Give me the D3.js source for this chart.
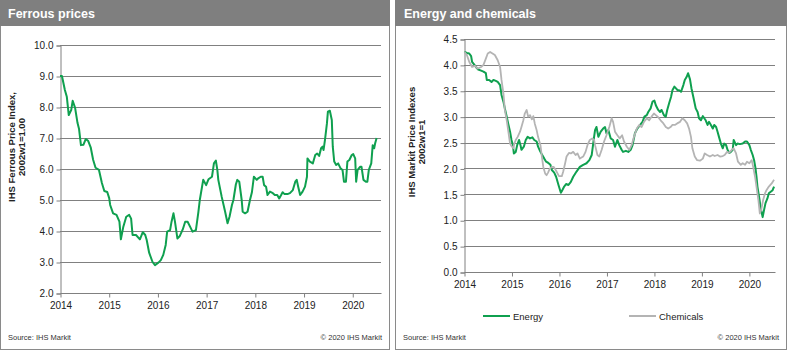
<!DOCTYPE html>
<html><head><meta charset="utf-8">
<script src="https://cdn.jsdelivr.net/npm/d3@7"></script>
<style>body{margin:0;background:#fff}svg{display:block;font-family:"Liberation Sans",Arial,sans-serif}</style>
</head><body><svg id="c" width="790" height="356"></svg>
<script>
// ---- data ----
const yearTicks = [2014, 2015, 2016, 2017, 2018, 2019, 2020];
const ferrousTicks = [2, 3, 4, 5, 6, 7, 8, 9, 10];
const energyTicks = [0, 0.5, 1, 1.5, 2, 2.5, 3, 3.5, 4, 4.5];

const ferrousDates = [2014.00,2014.04,2014.10,2014.14,2014.18,2014.23,2014.26,2014.31,2014.36,2014.39,2014.43,2014.48,2014.53,2014.58,2014.63,2014.68,2014.73,2014.80,2014.86,2014.91,2014.97,2015.01,2015.03,2015.09,2015.16,2015.22,2015.25,2015.30,2015.36,2015.42,2015.46,2015.49,2015.56,2015.64,2015.70,2015.75,2015.78,2015.83,2015.90,2015.95,2016.02,2016.07,2016.12,2016.17,2016.20,2016.26,2016.29,2016.33,2016.36,2016.41,2016.46,2016.52,2016.57,2016.62,2016.67,2016.72,2016.79,2016.84,2016.87,2016.94,2017.00,2017.05,2017.12,2017.16,2017.20,2017.23,2017.25,2017.32,2017.39,2017.44,2017.48,2017.53,2017.56,2017.61,2017.64,2017.68,2017.73,2017.75,2017.80,2017.85,2017.90,2017.94,2017.98,2018.04,2018.07,2018.12,2018.16,2018.19,2018.23,2018.26,2018.31,2018.37,2018.41,2018.46,2018.50,2018.54,2018.57,2018.61,2018.67,2018.72,2018.78,2018.83,2018.86,2018.89,2018.93,2018.98,2019.03,2019.07,2019.08,2019.13,2019.19,2019.24,2019.28,2019.32,2019.36,2019.39,2019.41,2019.44,2019.48,2019.50,2019.54,2019.58,2019.60,2019.63,2019.67,2019.71,2019.76,2019.80,2019.83,2019.87,2019.90,2019.94,2019.99,2020.02,2020.06,2020.08,2020.11,2020.16,2020.19,2020.23,2020.28,2020.31,2020.34,2020.39,2020.42,2020.45,2020.47,2020.50];
const ferrousValues = [9.0,9.0,8.55,8.33,7.74,7.9,8.2,7.97,7.48,7.3,6.77,6.78,6.97,6.9,6.7,6.3,6.04,5.97,5.55,5.29,5.26,5.06,4.84,4.57,4.52,4.3,3.73,4.14,4.46,4.52,4.4,3.87,3.87,3.73,3.96,3.87,3.71,3.3,3.0,2.9,2.98,3.06,3.23,3.55,3.98,4.03,4.3,4.57,4.3,3.76,3.84,4.05,4.3,4.3,4.14,3.98,4.03,4.6,5.0,5.65,5.48,5.67,5.75,6.18,6.27,5.97,5.65,5.1,4.62,4.25,4.46,4.84,5.0,5.5,5.65,5.59,5.0,4.62,4.57,4.62,5.0,5.25,5.75,5.65,5.7,5.75,5.75,5.48,5.43,5.16,5.27,5.22,5.16,5.16,5.05,5.16,5.25,5.19,5.19,5.22,5.32,5.59,5.65,5.43,5.16,5.27,5.43,5.75,6.34,6.24,6.18,6.45,6.5,6.42,6.67,6.72,6.61,6.94,7.47,7.85,7.88,7.58,6.72,6.24,6.13,6.18,6.02,5.97,5.59,5.59,6.24,6.29,6.45,6.48,6.34,5.59,5.97,6.07,6.07,5.65,5.59,5.59,5.97,6.18,6.77,6.67,6.83,7.0];

const energyDates = [2014.01,2014.06,2014.11,2014.15,2014.17,2014.22,2014.25,2014.30,2014.36,2014.41,2014.46,2014.48,2014.53,2014.58,2014.62,2014.67,2014.71,2014.76,2014.79,2014.83,2014.86,2014.90,2014.93,2014.97,2015.00,2015.03,2015.05,2015.09,2015.12,2015.16,2015.19,2015.21,2015.26,2015.30,2015.34,2015.39,2015.44,2015.48,2015.53,2015.56,2015.61,2015.66,2015.69,2015.73,2015.77,2015.82,2015.85,2015.90,2015.94,2015.99,2016.04,2016.07,2016.11,2016.15,2016.20,2016.25,2016.30,2016.37,2016.44,2016.51,2016.58,2016.64,2016.69,2016.74,2016.76,2016.79,2016.83,2016.88,2016.93,2016.97,2017.00,2017.04,2017.09,2017.14,2017.18,2017.23,2017.27,2017.32,2017.35,2017.41,2017.46,2017.51,2017.55,2017.60,2017.65,2017.71,2017.76,2017.80,2017.85,2017.88,2017.93,2017.97,2018.01,2018.04,2018.09,2018.13,2018.16,2018.21,2018.25,2018.28,2018.32,2018.36,2018.39,2018.43,2018.46,2018.50,2018.53,2018.57,2018.62,2018.65,2018.69,2018.72,2018.76,2018.79,2018.83,2018.88,2018.92,2018.95,2018.99,2019.03,2019.06,2019.09,2019.13,2019.16,2019.20,2019.24,2019.27,2019.31,2019.34,2019.37,2019.41,2019.45,2019.48,2019.52,2019.55,2019.59,2019.62,2019.66,2019.68,2019.73,2019.76,2019.81,2019.87,2019.92,2019.96,2020.01,2020.04,2020.08,2020.11,2020.14,2020.16,2020.18,2020.22,2020.25,2020.29,2020.32,2020.35,2020.39,2020.42,2020.46,2020.50,2020.53];
const energyValues = [4.25,4.23,4.22,4.17,4.06,4.0,3.96,3.91,3.89,3.87,3.84,3.71,3.71,3.67,3.71,3.69,3.67,3.61,3.42,3.29,3.16,3.0,2.87,2.71,2.55,2.45,2.29,2.32,2.45,2.55,2.45,2.36,2.42,2.55,2.61,2.58,2.6,2.55,2.52,2.42,2.32,2.24,2.19,2.13,2.11,2.07,1.97,1.92,1.84,1.68,1.53,1.58,1.65,1.7,1.68,1.74,1.84,1.94,2.03,2.07,2.1,2.16,2.26,2.61,2.74,2.8,2.61,2.71,2.77,2.8,2.68,2.74,2.58,2.55,2.42,2.55,2.45,2.36,2.32,2.34,2.32,2.36,2.45,2.68,2.77,2.84,2.9,3.0,3.03,3.09,3.16,3.29,3.31,3.22,3.13,3.09,3.13,3.03,3.0,3.13,3.26,3.38,3.51,3.58,3.55,3.51,3.51,3.48,3.61,3.71,3.77,3.84,3.72,3.55,3.38,3.16,3.09,2.97,2.93,3.01,2.97,2.93,2.84,2.9,2.84,2.77,2.84,2.8,2.71,2.61,2.48,2.39,2.48,2.45,2.36,2.3,2.32,2.36,2.55,2.45,2.48,2.47,2.48,2.52,2.52,2.45,2.36,2.26,2.16,2.0,1.84,1.65,1.42,1.23,1.06,1.2,1.33,1.42,1.52,1.55,1.58,1.65];

const chemDates = [2014.01,2014.06,2014.11,2014.17,2014.23,2014.29,2014.36,2014.41,2014.46,2014.50,2014.55,2014.60,2014.65,2014.71,2014.76,2014.79,2014.83,2014.86,2014.90,2014.93,2014.97,2015.00,2015.04,2015.06,2015.09,2015.13,2015.18,2015.21,2015.25,2015.28,2015.32,2015.35,2015.39,2015.43,2015.46,2015.49,2015.53,2015.56,2015.61,2015.64,2015.67,2015.71,2015.74,2015.77,2015.81,2015.85,2015.89,2015.95,2016.00,2016.06,2016.09,2016.13,2016.16,2016.21,2016.25,2016.30,2016.35,2016.39,2016.44,2016.51,2016.56,2016.60,2016.65,2016.70,2016.74,2016.76,2016.81,2016.85,2016.90,2016.95,2017.00,2017.06,2017.11,2017.14,2017.18,2017.23,2017.28,2017.33,2017.37,2017.43,2017.48,2017.53,2017.58,2017.64,2017.69,2017.74,2017.79,2017.85,2017.90,2017.95,2018.00,2018.04,2018.09,2018.14,2018.20,2018.25,2018.30,2018.35,2018.39,2018.44,2018.49,2018.55,2018.60,2018.65,2018.70,2018.74,2018.78,2018.81,2018.86,2018.91,2018.97,2019.03,2019.07,2019.12,2019.18,2019.24,2019.28,2019.34,2019.39,2019.45,2019.49,2019.54,2019.58,2019.64,2019.68,2019.73,2019.77,2019.83,2019.87,2019.92,2019.96,2020.01,2020.06,2020.09,2020.13,2020.16,2020.20,2020.23,2020.26,2020.30,2020.34,2020.37,2020.42,2020.48,2020.53];
const chemValues = [4.25,4.19,4.06,3.96,3.98,3.93,3.96,4.0,4.12,4.22,4.25,4.22,4.19,4.09,3.96,3.71,3.45,3.13,2.93,2.74,2.48,2.43,2.39,2.48,2.55,2.61,2.71,2.8,2.93,3.06,3.13,3.0,3.03,2.95,3.01,2.87,2.74,2.61,2.45,2.23,2.03,1.9,1.87,1.92,2.0,2.03,2.03,1.94,1.85,1.85,1.94,2.1,2.23,2.3,2.29,2.32,2.26,2.29,2.19,2.23,2.32,2.45,2.55,2.58,2.55,2.45,2.26,2.23,2.36,2.52,2.64,2.8,2.97,2.9,2.71,2.64,2.58,2.64,2.52,2.42,2.36,2.45,2.61,2.77,2.84,2.8,2.9,2.97,2.93,3.0,3.06,3.03,2.99,2.93,2.87,2.8,2.77,2.8,2.84,2.84,2.87,2.9,2.97,2.93,2.87,2.77,2.61,2.39,2.23,2.16,2.15,2.19,2.29,2.26,2.23,2.26,2.24,2.26,2.23,2.24,2.26,2.32,2.3,2.36,2.39,2.29,2.13,2.07,2.1,2.07,2.13,2.1,2.16,2.03,1.84,1.65,1.39,1.13,1.2,1.39,1.52,1.58,1.65,1.71,1.78];

// ---- drawing ----
const svg = d3.select("#c");
const GREEN = "#0fa04f", GREY = "#b4b4b4", FRAME = "#8a8a8a";

function panel(o) {
  const g = svg.append("g");
  g.append("rect").attr("x", o.x0 + 0.5).attr("y", 0.5).attr("width", o.w - 1).attr("height", 349)
    .attr("fill", "#fff").attr("stroke", FRAME);
  g.append("rect").attr("x", o.x0).attr("y", 0).attr("width", o.w).attr("height", 26).attr("fill", "#7f7f7f");
  g.append("text").attr("x", o.x0 + o.tx).attr("y", 18).attr("fill", "#fff")
    .attr("font-size", 12.5).attr("font-weight", "bold").text(o.title);

  const x = d3.scaleLinear().domain([2014, o.xEnd]).range([o.left, o.right]);
  const y = d3.scaleLinear().domain(o.yDomain).range([o.bottom, o.top]);

  // gridlines
  g.append("g").selectAll("line").data(o.yTicks.slice(1)).join("line")
    .attr("x1", o.left).attr("x2", o.right)
    .attr("y1", d => Math.round(y(d)) + 0.5).attr("y2", d => Math.round(y(d)) + 0.5)
    .attr("stroke", "#808080").attr("stroke-width", 1);

  const ya = g.append("g").attr("transform", `translate(${o.left + 0.5},0.5)`)
    .call(d3.axisLeft(y).tickValues(o.yTicks).tickFormat(d3.format(".1f")).tickSize(4).tickPadding(3));
  const xa = g.append("g").attr("transform", `translate(0.5,${Math.round(o.bottom) + 0.5})`)
    .call(d3.axisBottom(x).tickValues(yearTicks).tickFormat(d3.format("d")).tickSize(4).tickPadding(4));
  xa.select(".domain").attr("d", `M${o.left},0H${o.right}`);
  [ya, xa].forEach(a => {
    a.selectAll(".domain").attr("stroke", "#808080");
    a.selectAll(".tick line").attr("stroke", "#808080");
    a.selectAll("text").attr("fill", "#222").attr("font-size", 10).attr("font-family", "Liberation Sans, Arial, sans-serif");
  });

  // y-axis title
  const t = g.append("text").attr("transform", `translate(${o.lx},${o.ly}) rotate(-90)`)
    .attr("text-anchor", "middle").attr("font-size", 9.5).attr("font-weight", "bold").attr("fill", "#222");
  t.append("tspan").attr("x", 0).attr("dy", 0).text(o.ylab[0]);
  t.append("tspan").attr("x", 0).attr("dy", 10).text(o.ylab[1]);

  // footer
  g.append("text").attr("x", o.x0 + 8).attr("y", 340).attr("font-size", 7.5).attr("fill", "#333").text("Source:  IHS Markit");
  g.append("text").attr("x", o.x0 + o.w - 8).attr("y", 340).attr("text-anchor", "end").attr("font-size", 7.5).attr("fill", "#333").text("© 2020  IHS Markit");

  const line = d3.line().x(d => x(d[0])).y(d => y(d[1])).curve(d3.curveLinear);
  o.series.forEach(s => {
    g.append("path").datum(d3.zip(s.dates, s.values)).attr("d", line)
      .attr("fill", "none").attr("stroke", s.color).attr("stroke-width", s.w).attr("stroke-linejoin", "round");
  });
  return g;
}

panel({x0: 0, w: 390, tx: 8, title: "Ferrous prices", left: 60, right: 381, top: 45, bottom: 293,
  xEnd: 2020.59, yDomain: [2, 10], yTicks: ferrousTicks, lx: 15, ly: 147,
  ylab: ["IHS Ferrous Price Index,", "2002w1=1.00"],
  series: [{dates: ferrousDates, values: ferrousValues, color: GREEN, w: 2}]});

const g2 = panel({x0: 395, w: 392, tx: 9, title: "Energy and chemicals", left: 464, right: 775, top: 39, bottom: 272,
  xEnd: 2020.55, yDomain: [0, 4.5], yTicks: energyTicks, lx: 415, ly: 142,
  ylab: ["IHS Markit Price Indexes", "2002w1=1"],
  series: [{dates: energyDates, values: energyValues, color: GREEN, w: 2},
           {dates: chemDates, values: chemValues, color: GREY, w: 1.8}]});

// legend
const legend = [{name: "Energy", color: GREEN, x: 483}, {name: "Chemicals", color: GREY, x: 629}];
const lg = g2.append("g");
legend.forEach(l => {
  lg.append("line").attr("x1", l.x).attr("x2", l.x + 27).attr("y1", 316).attr("y2", 316)
    .attr("stroke", l.color).attr("stroke-width", 2);
  lg.append("text").attr("x", l.x + 30).attr("y", 319.5).attr("font-size", 9.5).attr("fill", "#222").text(l.name);
});
</script></body></html>
